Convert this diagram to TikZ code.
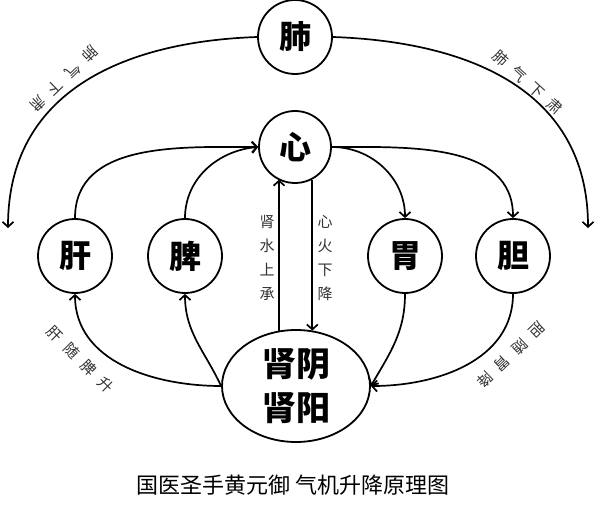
\documentclass[tikz,border=0pt]{standalone}
\usepackage{fontspec}
\usepackage{tikz}
\usetikzlibrary{arrows.meta,shapes.geometric}
\newfontfamily\cjk{Noto Sans CJK SC}
\definecolor{labelgray}{RGB}{50,50,50}

\tikzset{
    organ/.style={draw, circle, line width=1.8pt, minimum size=74pt, inner sep=0pt,
        font=\cjk\bfseries\fontsize{32}{32}\selectfont},
    flow/.style={line width=1.7pt, -{Straight Barb[length=5pt,width=11pt]}},
    flowlabel/.style={text=labelgray, inner sep=0pt, font=\cjk\fontsize{15}{15}\selectfont},
    sidelabel/.style={text=labelgray, inner sep=0pt, align=center,
        font=\cjk\fontsize{15}{24}\selectfont}
}

\begin{document}
\begin{tikzpicture}[x=1pt,y=1pt]
    \useasboundingbox (0,0) rectangle (600,515);

    % organs
    \node[organ] (fei) at (295,478) {肺};
    \node[organ, minimum size=72pt] (xin) at (295,368) {心};
    \node[organ] (gan) at (75,259) {肝};
    \node[organ] (pi) at (185,259) {脾};
    \node[organ] (wei) at (405,259) {胃};
    \node[organ] (dan) at (513,259) {胆};
    \node[draw, ellipse, line width=1.8pt, minimum width=148pt, minimum height=112pt,
        inner sep=0pt, align=center, font=\cjk\bfseries\fontsize{34}{44}\selectfont]
        (shen) at (296,129) {肾阴\\肾阳};

    \coordinate (feileft) at (8,287);
    \coordinate (feiright) at (588,287);

    % lung descends on both sides
    \draw[flow] (fei.west) to[out=182, in=90, looseness=1.1] (feileft);
    \draw[flow] (fei.east) to[out=-2, in=90, looseness=1.1] (feiright);

    % up to the heart, down from the heart
    \draw[flow] (gan.north) to[out=90, in=180] (xin.west);
    \draw[flow] (pi.north) to[out=90, in=185] (xin.west);
    \draw[flow] (xin.east) to[out=0, in=90] (wei.north);
    \draw[flow] (xin.east) to[out=0, in=90] (dan.north);

    % kidney and heart
    \draw[flow] (shen.107) -- (shen.107 |- xin.242);
    \draw[flow] (xin.298) -- (xin.298 |- shen.73);

    % kidney to liver and spleen, stomach and gallbladder to kidney
    \draw[flow] (shen.west) to[out=180, in=-90] (gan.south);
    \draw[flow] (shen.west) to[out=115, in=-90] (pi.south);
    \draw[flow] (wei.south) to[out=-90, in=60] (shen.east);
    \draw[flow] (dan.south) to[out=-90, in=0] (shen.east);

    % labels
    \node[flowlabel, rotate=224] (feilbla) at (64,436) {肺\hspace{9pt}气\hspace{9pt}下\hspace{9pt}肃};
    \node[flowlabel, rotate=-42] (feilblb) at (528,433) {肺\hspace{9pt}气\hspace{9pt}下\hspace{9pt}肃};
    \node[flowlabel, rotate=-45] (ganlbl) at (80,156) {肝\hspace{9pt}随\hspace{9pt}脾\hspace{9pt}升};
    \node[flowlabel, rotate=224] (danlbl) at (511,160) {胆\hspace{9pt}随\hspace{9pt}胃\hspace{9pt}降};
    \node[sidelabel] (shuilbl) at (267,257) {肾\\水\\上\\承};
    \node[sidelabel] (huolbl) at (325,257) {心\\火\\下\\降};

    \node[font=\cjk\fontsize{22}{22}\selectfont] (title) at (293,30) {国医圣手黄元御\hspace{6pt}气机升降原理图};
\end{tikzpicture}
\end{document}
